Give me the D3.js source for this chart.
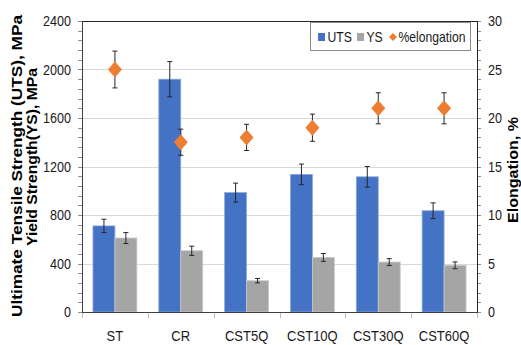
<!DOCTYPE html>
<html>
<head>
<meta charset="utf-8">
<script src="https://cdn.jsdelivr.net/npm/d3@7"></script>
<style>
  html, body { margin: 0; padding: 0; background: #fff; }
  svg { display: block; }
  .lbl { font-family: "Liberation Sans", Arial, sans-serif; }
  .ttl { font-family: "Liberation Sans", Arial, sans-serif; font-weight: bold; }
</style>
</head>
<body>
<svg id="chart" width="521" height="345"></svg>
<script>
// Tensile properties of each processing condition
const categories = ["ST", "CR", "CST5Q", "CST10Q", "CST30Q", "CST60Q"];
const utsValues = [710, 1920, 985, 1135, 1115, 835];
const utsErrors = [55, 145, 78, 85, 85, 65];
const ysValues = [610, 505, 258, 450, 412, 385];
const ysErrors = [45, 38, 18, 32, 28, 28];
const elongValues = [25, 17.5, 18, 19, 21, 21];
const elongErrors = [1.9, 1.35, 1.35, 1.4, 1.6, 1.6];
const leftTicks = [0, 400, 800, 1200, 1600, 2000, 2400];
const rightTicks = [0, 5, 10, 15, 20, 25, 30];
const seriesNames = ["UTS", "YS", "%elongation"];

const colors = { UTS: "#4472C4", YS: "#A5A5A5", elong: "#ED7D31" };

const svg = d3.select("#chart");
const plot = { left: 82, right: 477, top: 21, bottom: 312 };
const narrow = 0.84; // horizontal squeeze for a condensed look

// condensed text placed at (x, y)
function label(g, x, y, text, anchor, size) {
  return g.append("text").attr("class", "lbl")
    .attr("transform", `translate(${x},${y}) scale(${narrow},1)`)
    .attr("text-anchor", anchor).attr("font-size", size).attr("fill", "#1a1a1a")
    .text(text);
}

const x = d3.scaleBand().domain(categories)
  .range([plot.left, plot.right]).paddingInner(1 / 3).paddingOuter(1 / 6);
const xSub = d3.scaleBand().domain(["UTS", "YS"]).range([0, x.bandwidth()]);
const yL = d3.scaleLinear().domain([0, 2400]).range([plot.bottom, plot.top]);
const yR = d3.scaleLinear().domain([0, 30]).range([plot.bottom, plot.top]);

// horizontal gridlines
svg.append("g").selectAll("line").data(leftTicks.slice(1, -1)).join("line")
  .attr("x1", plot.left).attr("x2", plot.right)
  .attr("y1", d => Math.round(yL(d)) + 0.5).attr("y2", d => Math.round(yL(d)) + 0.5)
  .attr("stroke", "#d9d9d9").attr("stroke-width", 1);

// left axis with minor ticks
const minorL = d3.range(0, 2401, 80);
svg.append("g").selectAll("line").data(minorL).join("line")
  .attr("x1", plot.left - 4).attr("x2", plot.left)
  .attr("y1", d => Math.round(yL(d)) + 0.5).attr("y2", d => Math.round(yL(d)) + 0.5)
  .attr("stroke", "#8c8c8c");
const gL = svg.append("g");
leftTicks.forEach(d => label(gL, plot.left - 11, yL(d) + 5, d, "end", 15));

// right axis with minor ticks
const minorR = d3.range(0, 31, 1);
svg.append("g").selectAll("line").data(minorR).join("line")
  .attr("x1", plot.right).attr("x2", plot.right + 4)
  .attr("y1", d => Math.round(yR(d)) + 0.5).attr("y2", d => Math.round(yR(d)) + 0.5)
  .attr("stroke", "#8c8c8c");
const gR = svg.append("g");
rightTicks.forEach(d => label(gR, plot.right + 11, yR(d) + 5, d, "start", 15));

// category boundary ticks under the baseline
const bounds = d3.range(categories.length + 1).map(i => plot.left + i * x.step());
svg.append("g").selectAll("line").data(bounds).join("line")
  .attr("x1", d => Math.round(d) + 0.5).attr("x2", d => Math.round(d) + 0.5)
  .attr("y1", plot.bottom).attr("y2", plot.bottom + 6)
  .attr("stroke", "#bfbfbf");
const gX = svg.append("g");
categories.forEach(c => label(gX, x(c) + x.bandwidth() / 2, 341, c, "middle", 15.5));

// bars
const barData = [];
categories.forEach((c, i) => {
  barData.push({ cat: c, key: "UTS", v: utsValues[i], e: utsErrors[i] });
  barData.push({ cat: c, key: "YS", v: ysValues[i], e: ysErrors[i] });
});
svg.append("g").selectAll("rect").data(barData).join("rect")
  .attr("x", d => x(d.cat) + xSub(d.key))
  .attr("y", d => yL(d.v))
  .attr("width", xSub.bandwidth())
  .attr("height", d => yL(0) - yL(d.v))
  .attr("fill", d => colors[d.key])
  .attr("stroke", d => d.key === "UTS" ? "#8ea8dc" : "#c9c9c9")
  .attr("stroke-width", 0.8);

// error bars helper
function errorBars(g, data, cx, lo, hi) {
  const sel = g.selectAll("g").data(data).join("g");
  sel.append("line")
    .attr("x1", cx).attr("x2", cx).attr("y1", lo).attr("y2", hi)
    .attr("stroke", "#262626").attr("stroke-width", 1);
  sel.append("line")
    .attr("x1", d => cx(d) - 2.5).attr("x2", d => cx(d) + 2.5).attr("y1", lo).attr("y2", lo)
    .attr("stroke", "#262626").attr("stroke-width", 1);
  sel.append("line")
    .attr("x1", d => cx(d) - 2.5).attr("x2", d => cx(d) + 2.5).attr("y1", hi).attr("y2", hi)
    .attr("stroke", "#262626").attr("stroke-width", 1);
}
errorBars(svg.append("g"), barData,
  d => x(d.cat) + xSub(d.key) + xSub.bandwidth() / 2,
  d => yL(d.v - d.e), d => yL(d.v + d.e));

// elongation markers
const elongData = categories.map((c, i) => ({ cat: c, v: elongValues[i], e: elongErrors[i] }));
errorBars(svg.append("g"), elongData,
  d => x(d.cat) + x.bandwidth() / 2,
  d => yR(d.v - d.e), d => yR(d.v + d.e));
const dw = 7, dh = 8;
const diamond = `M0,${-dh}L${dw},0L0,${dh}L${-dw},0Z`;
svg.append("g").selectAll("path").data(elongData).join("path")
  .attr("transform", d => `translate(${x(d.cat) + x.bandwidth() / 2},${yR(d.v)})`)
  .attr("d", diamond)
  .attr("fill", colors.elong);

// plot frame: left, top, right, bottom
svg.append("line").attr("x1", plot.left + 0.5).attr("x2", plot.left + 0.5)
  .attr("y1", plot.top).attr("y2", plot.bottom).attr("stroke", "#404040");
svg.append("line").attr("x1", plot.right + 0.5).attr("x2", plot.right + 0.5)
  .attr("y1", plot.top).attr("y2", plot.bottom).attr("stroke", "#262626");
svg.append("line").attr("x1", plot.left).attr("x2", plot.right + 1)
  .attr("y1", plot.top + 0.5).attr("y2", plot.top + 0.5).attr("stroke", "#262626");
svg.append("line").attr("x1", plot.left).attr("x2", plot.right + 1)
  .attr("y1", plot.bottom + 0.5).attr("y2", plot.bottom + 0.5).attr("stroke", "#404040");

// legend
const lg = svg.append("g");
lg.append("rect").attr("x", 310.5).attr("y", 22.5).attr("width", 160).attr("height", 28)
  .attr("fill", "#fff").attr("stroke", "#8c8c8c");
const legendItems = [
  { name: seriesNames[0], x: 318, shape: "sq", color: colors.UTS },
  { name: seriesNames[1], x: 357, shape: "sq", color: colors.YS },
  { name: seriesNames[2], x: 389, shape: "dia", color: colors.elong }
];
legendItems.forEach(it => {
  if (it.shape === "sq") {
    lg.append("rect").attr("x", it.x).attr("y", 33).attr("width", 7).attr("height", 8).attr("fill", it.color);
  } else {
    lg.append("path").attr("transform", `translate(${it.x + 4},37)`)
      .attr("d", "M0,-4L4,0L0,4L-4,0Z").attr("fill", it.color);
  }
  label(lg, it.x + 9.5, 42, it.name, "start", 14.5);
});

// axis titles
function title(x, y, text, len) {
  svg.append("text").attr("class", "ttl").attr("font-size", 14).attr("fill", "#000")
    .attr("text-anchor", "middle")
    .attr("textLength", len).attr("lengthAdjust", "spacingAndGlyphs")
    .attr("transform", `translate(${x},${y}) rotate(-90)`)
    .text(text);
}
title(22, 166, "Ultimate Tensile Strength (UTS), MPa", 302);
title(37, 157, "Yield Strength(YS), MPa", 178);
title(518, 170, "Elongation, %", 106);
</script>
</body>
</html>
